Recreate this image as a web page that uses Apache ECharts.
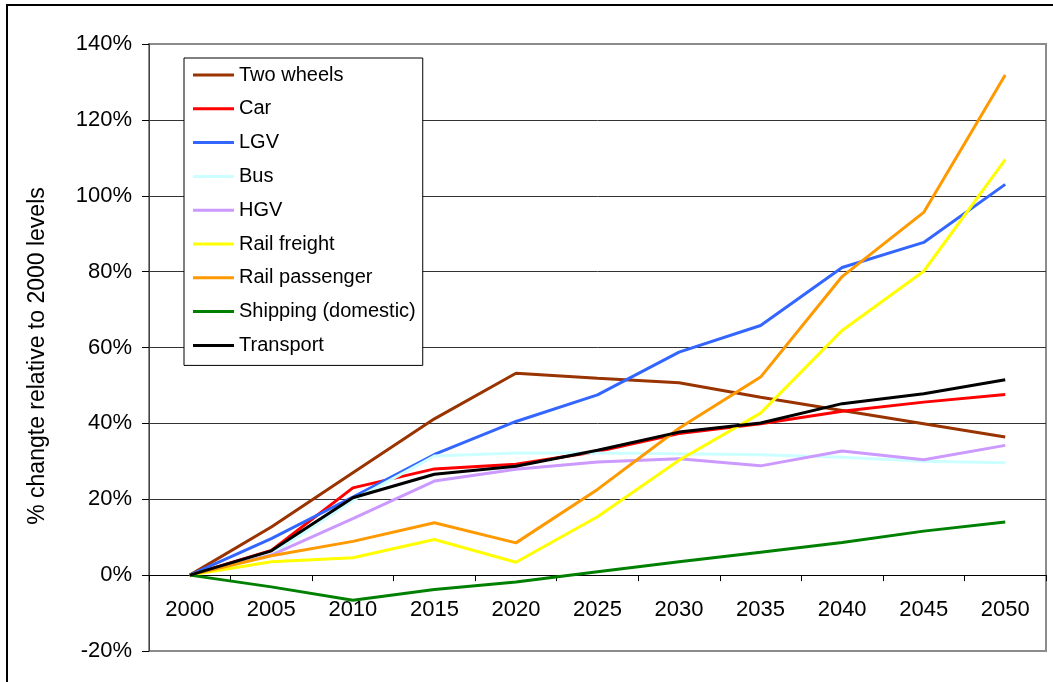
<!DOCTYPE html>
<html>
<head>
<meta charset="utf-8">
<script src="https://cdn.jsdelivr.net/npm/echarts@6/dist/echarts.min.js"></script>
<style>
html,body{margin:0;padding:0;background:#fff;}
#chart{width:1053px;height:682px;}
</style>
</head>
<body>
<div id="chart"></div>
<script>
const years = ['2000','2005','2010','2015','2020','2025','2030','2035','2040','2045','2050'];
const seriesNames = ['Two wheels','Car','LGV','Bus','HGV','Rail freight','Rail passenger','Shipping (domestic)','Transport'];
const seriesColors = ['#993300','#FF0000','#3366FF','#CCFFFF','#CC99FF','#FFFF00','#FF9900','#008000','#000000'];
const twoWheels = [0, 12.7, 27, 41.2, 53.2, 51.9, 50.7, 46.9, 43.4, 39.9, 36.4];
const car = [0, 6.5, 23, 28, 29.2, 32.6, 37.3, 39.9, 43.2, 45.6, 47.6];
const lgv = [0, 9.6, 20.6, 31.8, 40.5, 47.5, 58.8, 65.8, 81.1, 87.7, 103];
const bus = [0, 5.5, 19.7, 31.4, 32.2, 32.2, 32.0, 31.7, 31.1, 30.0, 29.6];
const hgv = [0, 5.3, 14.9, 24.8, 27.9, 29.8, 30.7, 28.8, 32.7, 30.4, 34.2];
const railFreight = [0, 3.5, 4.6, 9.4, 3.4, 15.4, 30.3, 42.7, 64.5, 80.1, 109.5];
const railPassenger = [0, 5.1, 8.9, 13.8, 8.5, 22.6, 38.7, 52.2, 78.7, 95.6, 131.8];
const shipping = [0, -3.1, -6.6, -3.8, -1.8, 0.9, 3.5, 6.0, 8.6, 11.6, 14.0];
const transport = [0, 6.4, 20.4, 26.6, 28.7, 32.9, 37.7, 40.1, 45.2, 47.8, 51.5];
const yTicks = {min: -20, max: 140, interval: 20};

const allData = [twoWheels, car, lgv, bus, hgv, railFreight, railPassenger, shipping, transport];
const FONT = '"Liberation Sans", Arial, sans-serif';

const W = 1053, H = 682;
const gridTop = 44, gridBottom = 31;
const gridH = H - gridTop - gridBottom;
const zeroOffset = -(0 - yTicks.min) / (yTicks.max - yTicks.min) * gridH;

const chart = echarts.init(document.getElementById('chart'), null, {renderer: 'canvas'});
chart.setOption({
  animation: false,
  backgroundColor: '#fff',
  graphic: [{
    type: 'rect',
    shape: {x: 7, y: 5, width: 1060, height: 700},
    style: {fill: null, stroke: '#000', lineWidth: 2},
    silent: true,
    z: 100
  }],
  grid: {
    left: 149, right: 7, top: gridTop, bottom: gridBottom,
    outerBoundsMode: 'none',
    containLabel: false,
    show: true, borderColor: '#8c8c8c', borderWidth: 2, backgroundColor: 'transparent'
  },
  legend: {
    orient: 'vertical',
    left: 184, top: 58,
    padding: [7, 7, 10, 9],
    itemGap: 13.8,
    itemWidth: 41, itemHeight: 3,
    icon: 'rect',
    borderColor: '#000', borderWidth: 1,
    backgroundColor: '#fff',
    textStyle: {fontFamily: FONT, fontSize: 20, color: '#000', lineHeight: 20},
    data: seriesNames
  },
  xAxis: {
    type: 'category',
    data: years,
    boundaryGap: true,
    position: 'bottom',
    offset: zeroOffset,
    axisLine: {onZero: false, lineStyle: {color: '#000', width: 1}},
    axisTick: {show: true, length: 6, lineStyle: {color: '#000'}},
    axisLabel: {fontFamily: FONT, fontSize: 22, color: '#000', margin: 24},
    splitLine: {show: false}
  },
  yAxis: {
    type: 'value',
    min: yTicks.min, max: yTicks.max, interval: yTicks.interval,
    name: '% changte relative to 2000 levels',
    nameLocation: 'middle', nameRotate: 90, nameGap: 100,
    nameTextStyle: {fontFamily: FONT, fontSize: 23, color: '#000', padding: [0, 17, 0, 0]},
    axisLine: {show: true, lineStyle: {color: '#444', width: 1}},
    axisTick: {show: true, length: 7, lineStyle: {color: '#000'}},
    axisLabel: {fontFamily: FONT, fontSize: 22, color: '#000', margin: 17, formatter: '{value}%'},
    splitLine: {show: true, lineStyle: {color: ['#8c8c8c','#333','#333','#333','#333','#333','#333','#333','#8c8c8c'], width: 1}}
  },
  series: seriesNames.map((n, i) => ({
    name: n,
    type: 'line',
    data: allData[i],
    symbol: 'none',
    color: seriesColors[i],
    lineStyle: {color: seriesColors[i], width: 3},
    z: 2
  }))
});
</script>
</body>
</html>
